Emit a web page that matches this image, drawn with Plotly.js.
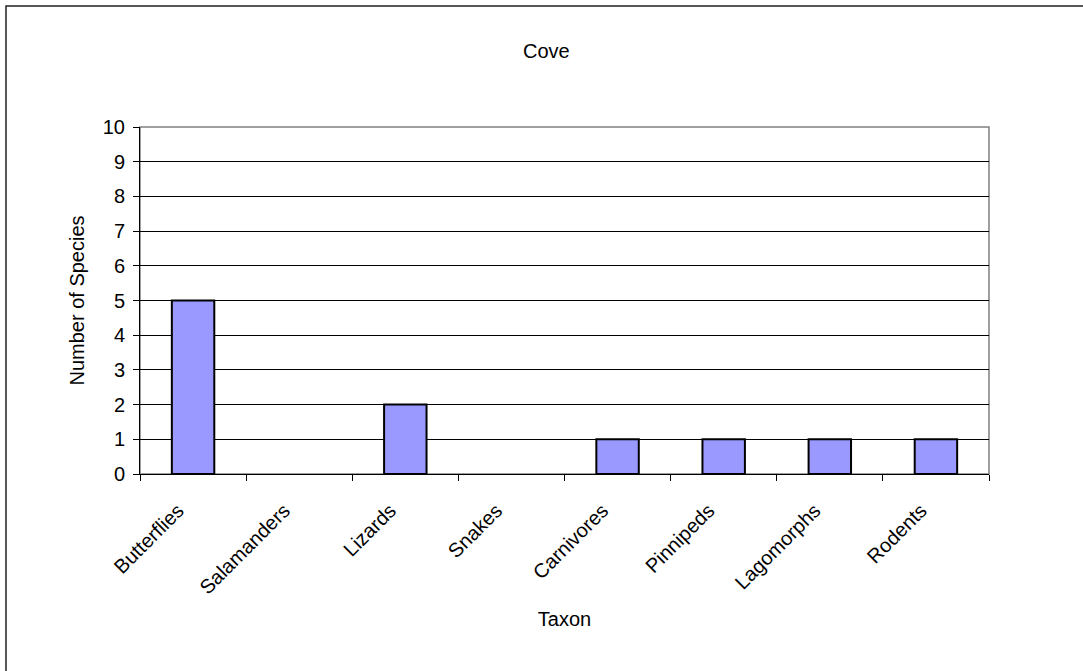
<!DOCTYPE html>
<html>
<head>
<meta charset="utf-8">
<script src="https://cdn.plot.ly/plotly-3.0.1.min.js"></script>
<style>
  html, body { margin: 0; padding: 0; background: #fff; }
  #chart { width: 1083px; height: 671px; }
</style>
</head>
<body>
<div id="chart"></div>
<script>
// Species counts per taxon for the Cove site
const taxa = ["Butterflies", "Salamanders", "Lizards", "Snakes", "Carnivores", "Pinnipeds", "Lagomorphs", "Rodents"];
const speciesCount = [5, 0, 2, 0, 1, 1, 1, 1];
const yTickValues = [0, 1, 2, 3, 4, 5, 6, 7, 8, 9, 10];

const W = 1083, H = 671;
const M = { l: 140, r: 94, t: 127, b: 197 };
const pw = W - M.l - M.r, ph = H - M.t - M.b;
// pixel -> paper helpers for decorations outside the plot area
const px = x => (x - M.l) / pw;
const py = y => (H - M.b - y) / ph;

const font = { family: "Liberation Sans, Arial, sans-serif", size: 20, color: "#000" };

const trace = {
  type: "bar",
  x: taxa,
  y: speciesCount,
  width: 0.4,
  // empty categories get no outline so nothing is drawn for them
  marker: { color: "#9999ff", line: { color: "#000", width: speciesCount.map(v => (v > 0 ? 2 : 0)) } },
  hoverinfo: "x+y"
};

const layout = {
  width: W, height: H,
  margin: M,
  paper_bgcolor: "#fff",
  plot_bgcolor: "#fff",
  font: font,
  showlegend: false,
  xaxis: {
    type: "category",
    tickson: "boundaries",
    ticks: "outside", ticklen: 6, tickcolor: "#000", tickwidth: 1,
    showgrid: false,
    showline: true, linecolor: "#000", linewidth: 1,
    tickangle: -45,
    ticklabelstandoff: 16,
    ticklabelshift: -15,
    tickfont: font,
    title: { text: "Taxon", font: font, standoff: 14 },
    range: [-0.5, 7.5]
  },
  yaxis: {
    range: [0, 10],
    tickvals: yTickValues,
    ticks: "outside", ticklen: 6, tickcolor: "#000", tickwidth: 1,
    showgrid: true, gridcolor: "#000", gridwidth: 1,
    zeroline: false,
    showline: true, linecolor: "#000", linewidth: 1,
    ticklabelstandoff: 4,
    tickfont: font,
    title: { text: "Number of Species", font: font, standoff: 12 }
  },
  shapes: [
    // plot area frame
    { type: "rect", xref: "paper", yref: "paper", x0: 0, x1: 1, y0: 0, y1: 1,
      line: { color: "#808080", width: 1.5 }, layer: "below" },
    // chart area border
    { type: "rect", xref: "paper", yref: "paper",
      x0: px(6), x1: px(W + 20), y0: py(H + 20), y1: py(6),
      line: { color: "#222", width: 1.5 }, layer: "below" }
  ],
  annotations: [
    { text: "Cove", xref: "paper", yref: "paper", x: px(546), y: py(51),
      xanchor: "center", yanchor: "middle", showarrow: false, font: font }
  ]
};

Plotly.newPlot("chart", [trace], layout, { displayModeBar: false, staticPlot: true });
</script>
</body>
</html>
